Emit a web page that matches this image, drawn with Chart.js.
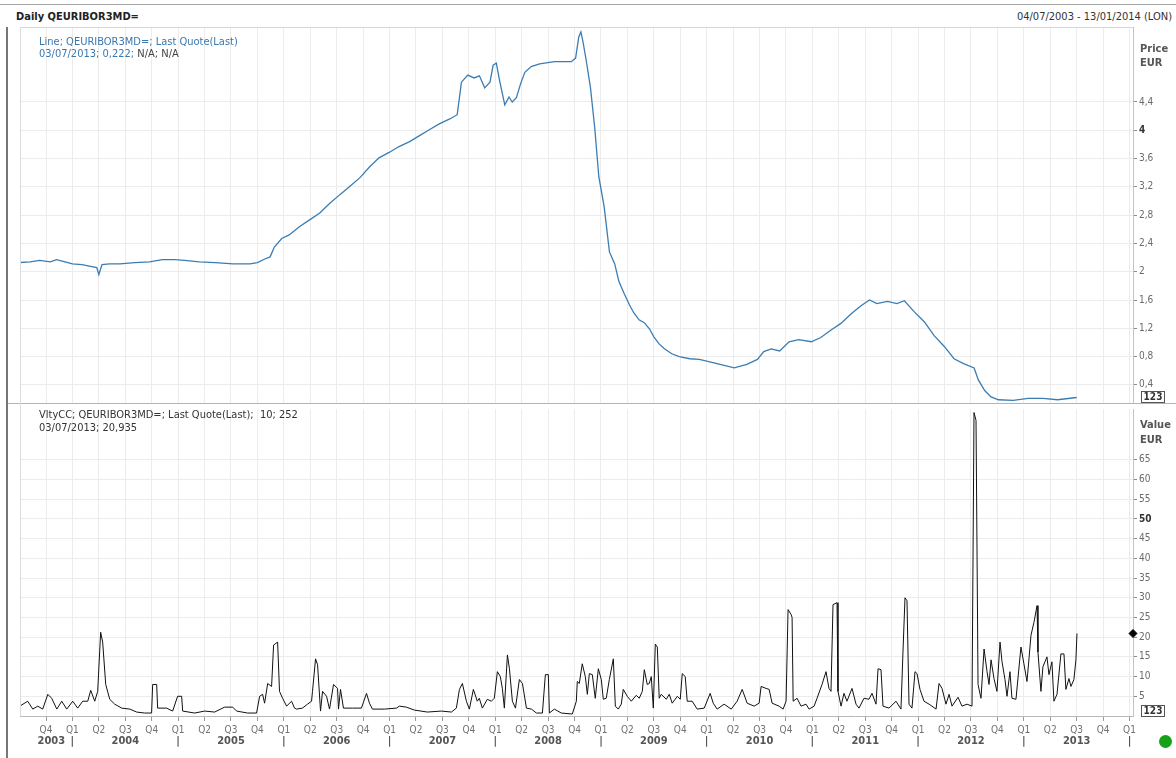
<!DOCTYPE html>
<html>
<head>
<meta charset="utf-8">
<script src="https://cdn.jsdelivr.net/npm/chart.js@4.4.0/dist/chart.umd.min.js"></script>
<style>
  body { margin: 0; width: 1176px; height: 758px; background: #fff; position: relative; overflow: hidden;
         font-family: "DejaVu Sans Condensed", Tahoma, sans-serif; }
  .abs { position: absolute; }
  .txt { font-size: 11px; white-space: nowrap; line-height: 13px; }
  .bold { font-weight: bold; }
  .box123 { position: absolute; width: 22px; height: 10px; border: 1px solid #555; background: #fff;
            font-size: 10px; line-height: 10px; text-align: center; color: #333; font-weight: bold; }
</style>
</head>
<body>
<div class="abs" style="left:0;top:4px;width:1176px;height:1px;background:#a6a6a6"></div>
<div class="abs txt bold" style="left:16px;top:10px;color:#222">Daily QEURIBOR3MD=</div>
<div class="abs txt" style="right:4px;top:10px;color:#333">04/07/2003 - 13/01/2014 (LON)</div>
<div class="abs" style="left:6px;top:27px;width:2px;height:731px;background:#777"></div>

<div class="abs" style="left:8px;top:27px;width:1168px;height:377px">
  <canvas id="priceChart" width="1168" height="377"></canvas>
</div>
<div class="abs" style="left:8px;top:404px;width:1168px;height:354px">
  <canvas id="volChart" width="1168" height="354"></canvas>
</div>

<div class="abs" style="left:20px;top:27px;width:1113px;height:1px;background:#d6d6d6"></div>
<div class="abs" style="left:8px;top:403px;width:1168px;height:1px;background:#b4b4b4"></div>
<div class="abs" style="left:20px;top:27px;width:1px;height:689px;background:#dcdcdc"></div>

<div class="abs txt" style="left:39px;top:35px;color:#3a78b0">Line; QEURIBOR3MD=; Last Quote(Last)</div>
<div class="abs txt" style="left:39px;top:47px;color:#3a78b0">03/07/2013; 0,222; <span style="color:#444">N/A; N/A</span></div>
<div class="abs txt" style="left:39px;top:408px;color:#333">VltyCC; QEURIBOR3MD=; Last Quote(Last);&nbsp; 10; 252</div>
<div class="abs txt" style="left:39px;top:421px;color:#333">03/07/2013; 20,935</div>

<div class="abs txt bold" style="left:1140px;top:42px;color:#555">Price</div>
<div class="abs txt bold" style="left:1140px;top:56px;color:#555">EUR</div>
<div class="abs txt bold" style="left:1140px;top:418px;color:#555">Value</div>
<div class="abs txt bold" style="left:1140px;top:433px;color:#555">EUR</div>

<div class="box123" style="left:1141px;top:391px">123</div>
<div class="box123" style="left:1141px;top:705px">123</div>
<div class="abs" style="left:1159px;top:735px;width:13px;height:13px;border-radius:50%;background:#17a01a"></div>

<script>
// x values are decimal years
const xMin = 2003.504;
const xMax = 2014.033;

const rateYears = [2003.50, 2003.60, 2003.69, 2003.79, 2003.85, 2003.93, 2004.00, 2004.09, 2004.16, 2004.23,
  2004.25, 2004.28, 2004.35, 2004.45, 2004.59, 2004.73, 2004.85, 2004.97, 2005.06, 2005.20,
  2005.35, 2005.52, 2005.68, 2005.75, 2005.82, 2005.87, 2005.91, 2005.98, 2006.05, 2006.15,
  2006.24, 2006.34, 2006.43, 2006.53, 2006.62, 2006.72, 2006.81, 2006.90, 2007.00, 2007.09,
  2007.19, 2007.28, 2007.38, 2007.47, 2007.57, 2007.64, 2007.68, 2007.74, 2007.80, 2007.85,
  2007.90, 2007.95, 2007.98, 2008.01, 2008.04, 2008.09, 2008.13, 2008.16, 2008.20, 2008.24,
  2008.28, 2008.34, 2008.42, 2008.56, 2008.72, 2008.76, 2008.79, 2008.81, 2008.83, 2008.86,
  2008.90, 2008.94, 2008.98, 2009.03, 2009.08, 2009.13, 2009.17, 2009.22, 2009.27, 2009.31,
  2009.36, 2009.41, 2009.46, 2009.50, 2009.55, 2009.60, 2009.67, 2009.74, 2009.84, 2009.93,
  2010.07, 2010.26, 2010.38, 2010.48, 2010.54, 2010.61, 2010.69, 2010.78, 2010.87, 2010.99,
  2011.08, 2011.18, 2011.27, 2011.37, 2011.46, 2011.54, 2011.61, 2011.71, 2011.80, 2011.87,
  2011.96, 2012.06, 2012.15, 2012.25, 2012.34, 2012.43, 2012.53, 2012.57, 2012.63, 2012.69,
  2012.76, 2012.90, 2013.04, 2013.18, 2013.32, 2013.50];
const rateValues = [2.13, 2.14, 2.16, 2.14, 2.17, 2.14, 2.11, 2.10, 2.08, 2.06,
  1.96, 2.10, 2.11, 2.11, 2.13, 2.14, 2.17, 2.17, 2.16, 2.14,
  2.13, 2.11, 2.11, 2.13, 2.18, 2.21, 2.35, 2.47, 2.52, 2.64,
  2.73, 2.83, 2.96, 3.09, 3.20, 3.33, 3.48, 3.61, 3.69, 3.77,
  3.84, 3.92, 4.01, 4.09, 4.16, 4.22, 4.68, 4.78, 4.74, 4.77,
  4.60, 4.68, 4.92, 4.95, 4.71, 4.36, 4.47, 4.40, 4.46, 4.66,
  4.82, 4.90, 4.94, 4.97, 4.97, 5.02, 5.32, 5.39, 5.25, 4.99,
  4.61, 4.05, 3.34, 2.92, 2.28, 2.11, 1.86, 1.69, 1.53, 1.42,
  1.32, 1.28, 1.19, 1.08, 0.98, 0.91, 0.84, 0.80, 0.77, 0.76,
  0.71, 0.64, 0.69, 0.76, 0.87, 0.91, 0.88, 1.01, 1.04, 1.01,
  1.07, 1.18, 1.27, 1.41, 1.52, 1.60, 1.55, 1.58, 1.55, 1.59,
  1.44, 1.29, 1.10, 0.94, 0.77, 0.70, 0.64, 0.47, 0.32, 0.23,
  0.19, 0.18, 0.21, 0.21, 0.19, 0.222];

const volYears = [2003.502, 2003.577, 2003.625, 2003.672, 2003.719, 2003.767, 2003.804, 2003.852, 2003.899, 2003.946,
  2004.003, 2004.050, 2004.097, 2004.145, 2004.173, 2004.211, 2004.239, 2004.267, 2004.286, 2004.315,
  2004.353, 2004.400, 2004.466, 2004.543, 2004.608, 2004.683, 2004.749, 2004.759, 2004.797, 2004.806,
  2004.891, 2004.948, 2004.995, 2005.033, 2005.043, 2005.156, 2005.251, 2005.345, 2005.440, 2005.516,
  2005.553, 2005.657, 2005.742, 2005.771, 2005.799, 2005.818, 2005.847, 2005.884, 2005.903, 2005.941,
  2005.959, 2005.988, 2006.026, 2006.073, 2006.101, 2006.120, 2006.176, 2006.224, 2006.262, 2006.271,
  2006.300, 2006.319, 2006.347, 2006.366, 2006.404, 2006.432, 2006.470, 2006.508, 2006.517, 2006.536,
  2006.564, 2006.649, 2006.734, 2006.782, 2006.810, 2006.838, 2006.952, 2007.065, 2007.093, 2007.159,
  2007.235, 2007.358, 2007.490, 2007.585, 2007.632, 2007.661, 2007.689, 2007.727, 2007.755, 2007.793,
  2007.830, 2007.849, 2007.878, 2007.925, 2007.963, 2007.991, 2008.020, 2008.048, 2008.067, 2008.086,
  2008.115, 2008.134, 2008.162, 2008.191, 2008.228, 2008.257, 2008.295, 2008.342, 2008.389, 2008.446,
  2008.474, 2008.502, 2008.512, 2008.559, 2008.625, 2008.729, 2008.767, 2008.776, 2008.795, 2008.823,
  2008.852, 2008.871, 2008.890, 2008.918, 2008.946, 2008.975, 2009.003, 2009.022, 2009.050, 2009.079,
  2009.117, 2009.136, 2009.164, 2009.192, 2009.211, 2009.249, 2009.287, 2009.334, 2009.362, 2009.391,
  2009.410, 2009.438, 2009.457, 2009.476, 2009.495, 2009.514, 2009.533, 2009.551, 2009.570, 2009.618,
  2009.646, 2009.674, 2009.722, 2009.750, 2009.769, 2009.797, 2009.816, 2009.863, 2009.910, 2009.977,
  2010.033, 2010.062, 2010.099, 2010.165, 2010.232, 2010.288, 2010.336, 2010.383, 2010.449, 2010.496,
  2010.515, 2010.562, 2010.591, 2010.619, 2010.685, 2010.723, 2010.751, 2010.770, 2010.799, 2010.808,
  2010.818, 2010.855, 2010.893, 2010.940, 2010.969, 2011.016, 2011.044, 2011.091, 2011.129, 2011.157,
  2011.176, 2011.195, 2011.233, 2011.242, 2011.271, 2011.299, 2011.327, 2011.375, 2011.413, 2011.441,
  2011.488, 2011.535, 2011.564, 2011.602, 2011.621, 2011.649, 2011.668, 2011.725, 2011.791, 2011.838,
  2011.857, 2011.876, 2011.895, 2011.914, 2011.942, 2011.971, 2011.990, 2012.018, 2012.056, 2012.104,
  2012.170, 2012.198, 2012.226, 2012.264, 2012.293, 2012.321, 2012.378, 2012.415, 2012.463, 2012.510,
  2012.529, 2012.548, 2012.567, 2012.595, 2012.624, 2012.652, 2012.671, 2012.690, 2012.718, 2012.746,
  2012.775, 2012.794, 2012.822, 2012.841, 2012.869, 2012.888, 2012.926, 2012.973, 2013.001, 2013.030,
  2013.049, 2013.068, 2013.096, 2013.125, 2013.134, 2013.162, 2013.181, 2013.219, 2013.238, 2013.266,
  2013.285, 2013.314, 2013.351, 2013.380, 2013.398, 2013.427, 2013.446, 2013.474, 2013.493, 2013.503];
const volValues = [2.5, 3.75, 1.75, 2.5, 1.75, 5.5, 4.5, 1.75, 3.75, 1.75,
  3.75, 2, 3.75, 3.75, 6.5, 3.75, 6.25, 21.25, 18.75, 8,
  4.25, 3, 2, 1.75, 1, 0.75, 0.75, 8, 8, 2,
  2, 1.25, 5, 5, 1.25, 0.75, 1.25, 1, 2.25, 2.25,
  1.25, 0.75, 0.75, 5, 5.5, 3.25, 8.25, 7.5, 18, 18.75,
  6.25, 4.5, 2.5, 3.75, 2, 1.75, 2, 3, 3.75, 6.25,
  14.5, 13, 1.25, 6.25, 5, 1.75, 8, 7, 1.75, 6.75,
  2, 2, 2, 5.75, 3.25, 1.75, 1.75, 2, 2.5, 2.25,
  1.5, 1, 1.25, 1, 2, 6.75, 8.25, 3.75, 1.75, 6.75,
  3.75, 4.5, 2, 4.25, 3.75, 4.5, 11.25, 10, 7, 2,
  15.5, 12, 3.75, 2, 9.25, 8.25, 2, 1.75, 0.75, 0.75,
  10.5, 10.5, 0.75, 1.75, 0.75, 0.5, 3.75, 8.75, 8.25, 13.25,
  10, 5.5, 10.75, 10.5, 4.5, 12, 9.25, 4.25, 4.5, 9.25,
  14.5, 2.5, 1.75, 3, 6.75, 5, 3.75, 5.25, 4.5, 6.25,
  11.75, 8, 8.25, 10, 2, 18.25, 17.5, 4.5, 5.5, 4.25,
  5.5, 3.25, 5, 4.25, 10.75, 10, 3.75, 3.75, 1.75, 2,
  5.75, 3.25, 1.75, 3, 1.75, 3.75, 6.75, 3.25, 2.5, 3.25,
  7.5, 7, 6.75, 3.25, 2.5, 1.75, 3.75, 27, 25.75, 25,
  3.75, 4.5, 2.5, 3, 1.75, 2.5, 4.5, 8, 11.25, 7,
  6.25, 28.25, 28.75, 6.25, 2.5, 5.75, 3.75, 7, 3, 2,
  4.5, 4.25, 5.75, 3, 12, 11.75, 2.5, 2, 3.75, 1.75,
  16.25, 30, 29.25, 3, 2, 11.25, 10.75, 6.75, 3.75, 3,
  1.75, 8.25, 7, 3, 5.5, 2.5, 4.75, 2.5, 3, 2.5,
  77, 75, 8, 4.5, 17, 11.25, 8, 14.25, 9.5, 6.25,
  18.75, 13.75, 9.25, 5, 11.25, 4.5, 4.25, 17.5, 13.25, 8.75,
  14.5, 20.5, 23.75, 28, 16.25, 6.25, 12.5, 15, 10.5, 13.75,
  3.75, 5.5, 15.75, 15.75, 6.75, 9.5, 7.5, 9.25, 14.25, 20.935];

const priceTicks = [0.4, 0.8, 1.2, 1.6, 2, 2.4, 2.8, 3.2, 3.6, 4, 4.4];
const valueTicks = [5, 10, 15, 20, 25, 30, 35, 40, 45, 50, 55, 60, 65];

const quarterTicks = [2003.75,
  2004, 2004.25, 2004.5, 2004.75, 2005, 2005.25, 2005.5, 2005.75,
  2006, 2006.25, 2006.5, 2006.75, 2007, 2007.25, 2007.5, 2007.75,
  2008, 2008.25, 2008.5, 2008.75, 2009, 2009.25, 2009.5, 2009.75,
  2010, 2010.25, 2010.5, 2010.75, 2011, 2011.25, 2011.5, 2011.75,
  2012, 2012.25, 2012.5, 2012.75, 2013, 2013.25, 2013.5, 2013.75, 2014];
const quarterLabels = ['Q4',
  'Q1', 'Q2', 'Q3', 'Q4', 'Q1', 'Q2', 'Q3', 'Q4',
  'Q1', 'Q2', 'Q3', 'Q4', 'Q1', 'Q2', 'Q3', 'Q4',
  'Q1', 'Q2', 'Q3', 'Q4', 'Q1', 'Q2', 'Q3', 'Q4',
  'Q1', 'Q2', 'Q3', 'Q4', 'Q1', 'Q2', 'Q3', 'Q4',
  'Q1', 'Q2', 'Q3', 'Q4', 'Q1', 'Q2', 'Q3', 'Q4', 'Q1'];

const yearTicks = [2003.8, 2004, 2004.5, 2005, 2005.5, 2006, 2006.5, 2007, 2007.5, 2008, 2008.5,
  2009, 2009.5, 2010, 2010.5, 2011, 2011.5, 2012, 2012.5, 2013, 2013.5, 2014];
const yearLabels = ['2003', '|', '2004', '|', '2005', '|', '2006', '|', '2007', '|', '2008',
  '|', '2009', '|', '2010', '|', '2011', '|', '2012', '|', '2013', '|'];

const gridColor = '#ececec';
const tickFont = { family: '"DejaVu Sans Condensed", Tahoma, sans-serif', size: 10 };

function toPoints(xs, ys) {
    return xs.map((x, i) => ({ x: x, y: ys[i] }));
}

function commaLabel(v) {
    return String(v).replace('.', ',');
}

// no extra room for half tick labels: the plot fills its panel
function noPadding(scale) {
    scale.paddingTop = 0;
    scale.paddingBottom = 0;
    scale.paddingLeft = 0;
    scale.paddingRight = 0;
}

function rightAxis(min, max, ticks, boldValue) {
    return {
        type: 'linear',
        position: 'right',
        min: min,
        max: max,
        afterBuildTicks: scale => { scale.ticks = ticks.map(v => ({ value: v })); },
        afterFit: scale => { scale.width = 43; noPadding(scale); },
        grid: { color: gridColor, tickColor: '#8a8a8a', tickLength: 4 },
        border: { color: '#c4c4c4' },
        ticks: {
            padding: 2,
            color: ctx => ctx.tick && ctx.tick.value === boldValue ? '#333' : '#6a6a6a',
            font: ctx => Object.assign({}, tickFont, { weight: ctx.tick && ctx.tick.value === boldValue ? 'bold' : 'normal' }),
            callback: v => commaLabel(v)
        }
    };
}

Chart.defaults.animation = false;

// Upper panel: the rate itself
new Chart(document.getElementById('priceChart'), {
    type: 'line',
    data: {
        datasets: [{
            data: toPoints(rateYears, rateValues),
            borderColor: '#3b7db2',
            borderWidth: 1.3,
            pointRadius: 0,
            tension: 0
        }]
    },
    options: {
        responsive: false,
        layout: { padding: { left: 12, top: 0, right: 0, bottom: 0 } },
        plugins: { legend: { display: false }, tooltip: { enabled: false } },
        scales: {
            x: {
                type: 'linear',
                min: xMin,
                max: xMax,
                afterBuildTicks: scale => { scale.ticks = quarterTicks.map(v => ({ value: v })); },
                afterFit: scale => { scale.height = 0; noPadding(scale); },
                grid: { color: gridColor, drawTicks: false },
                border: { display: false },
                ticks: { display: false }
            },
            y: rightAxis(0.13, 5.46, priceTicks, 4)
        }
    }
});

// Lower panel: volatility indicator
new Chart(document.getElementById('volChart'), {
    type: 'line',
    data: {
        datasets: [{
            data: toPoints(volYears, volValues),
            borderColor: '#111',
            borderWidth: 1,
            pointRadius: 0,
            tension: 0
        }, {
            type: 'scatter',
            data: [{ x: xMax, y: volValues[volValues.length - 1] }],
            pointStyle: 'rectRot',
            pointRadius: 4,
            backgroundColor: '#000',
            borderColor: '#000',
            clip: false
        }]
    },
    options: {
        responsive: false,
        layout: { padding: { left: 12, top: 1, right: 0, bottom: 0 } },
        plugins: { legend: { display: false }, tooltip: { enabled: false } },
        scales: {
            x: {
                type: 'linear',
                min: xMin,
                max: xMax,
                afterBuildTicks: scale => { scale.ticks = quarterTicks.map(v => ({ value: v })); },
                afterFit: scale => { scale.height = 19; noPadding(scale); },
                grid: { color: gridColor, tickColor: '#9a9a9a', tickLength: 5 },
                border: { color: '#b8b8b8' },
                ticks: {
                    autoSkip: false, maxRotation: 0, padding: 3,
                    color: '#707070', font: tickFont,
                    callback: (v, i) => quarterLabels[i]
                }
            },
            x2: {
                type: 'linear',
                position: 'bottom',
                min: xMin,
                max: xMax,
                afterBuildTicks: scale => { scale.ticks = yearTicks.map(v => ({ value: v })); },
                afterFit: scale => { scale.height = 23; noPadding(scale); },
                grid: { display: false, drawTicks: false },
                border: { display: false },
                ticks: {
                    autoSkip: false, maxRotation: 0, padding: 0,
                    color: '#555',
                    font: Object.assign({}, tickFont, { size: 11, weight: 'bold' }),
                    callback: (v, i) => yearLabels[i]
                }
            },
            y: rightAxis(0, 77.9, valueTicks, 50)
        }
    }
});
</script>
</body>
</html>
